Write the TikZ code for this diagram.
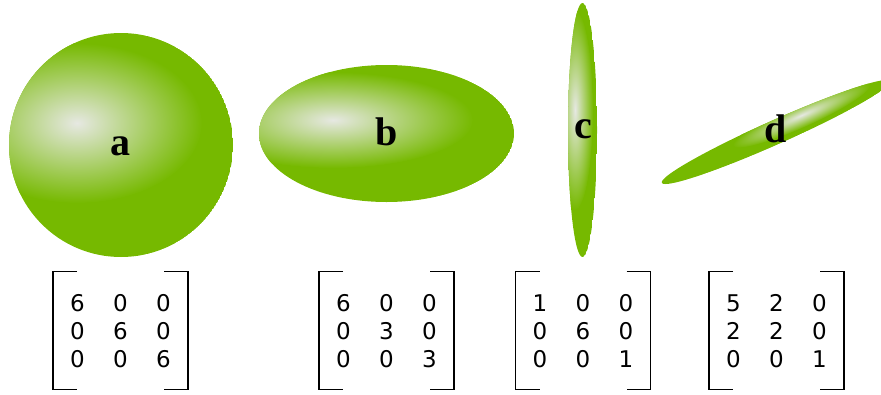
\documentclass[tikz,border=0pt]{standalone}
\usepackage{fontspec}
\usepackage{tikz}
\usetikzlibrary{positioning,matrix}
\newfontfamily\numfont{DejaVu Sans}
\newfontfamily\labfont{Liberation Serif}
\definecolor{BlobGreen}{HTML}{76B900}
\definecolor{BlobShine}{HTML}{E6E8E2}
\tikzset{
  blobfill/.style={fill=BlobGreen},
  blobshine/.style={inner color=BlobShine,outer color=BlobGreen},
  bloblabel/.style={font=\labfont\bfseries\fontsize{40}{40}\selectfont,anchor=base,inner sep=0pt},
  covmat/.style={matrix of nodes,inner sep=0pt,column sep=0pt,row sep=0pt,
    nodes={font=\numfont\fontsize{23}{23}\selectfont,text height=17pt,text depth=0pt,
      minimum width=43pt,minimum height=28pt,inner sep=0pt,anchor=center}},
  bracketline/.style={line width=1.2pt,draw=black}
}
\newcommand{\matbrackets}[1]{%
  \draw[bracketline] ([xshift=-43.5pt,yshift=59pt]#1.center) -- ++(-24,0) -- ++(0,118) -- ++(24,0);
  \draw[bracketline] ([xshift=43.5pt,yshift=59pt]#1.center) -- ++(24,0) -- ++(0,118) -- ++(-24,0);}

\begin{document}
\begin{tikzpicture}[x=1pt,y=-1pt]
\useasboundingbox (0,0) rectangle (881,394);
\begin{scope}
  \clip (121,145) circle (112);
  \fill[blobfill] (121,145) circle (112);
  \shade[blobshine] (77,123) ellipse (125 and 80);
\end{scope}
\begin{scope}
  \clip (386.5,133.5) ellipse (127.5 and 68.5);
  \fill[blobfill] (386.5,133.5) ellipse (127.5 and 68.5);
  \shade[blobshine] (333,120) ellipse (140 and 48);
\end{scope}
\begin{scope}
  \clip (582.5,130) ellipse (14.5 and 127);
  \fill[blobfill] (582.5,130) ellipse (14.5 and 127);
  \shade[blobshine] (575,110) ellipse (18 and 100);
\end{scope}
\begin{scope}[transform canvas={shift={(776,132)},rotate=24}]
  \clip (0,0) ellipse (125 and 12);
  \fill[blobfill] (0,0) ellipse (125 and 12);
  \shade[blobshine] (30,-5) ellipse (75 and 12);
\end{scope}
\node[bloblabel] (la) at (120.5,155) {a};
\node[bloblabel] (lb) at (387,145) {b};
\node[bloblabel] (lc) at (583,138) {c};
\node[bloblabel] (ld) at (776,142) {d};
\matrix[covmat] (ma) at (120.5,330.5) {6 & 0 & 0\\ 0 & 6 & 0\\ 0 & 0 & 6\\};
\matrix[covmat] (mb) at (386.5,330.5) {6 & 0 & 0\\ 0 & 3 & 0\\ 0 & 0 & 3\\};
\matrix[covmat] (mc) at (583,330.5) {1 & 0 & 0\\ 0 & 6 & 0\\ 0 & 0 & 1\\};
\matrix[covmat] (md) at (776.5,330.5) {5 & 2 & 0\\ 2 & 2 & 0\\ 0 & 0 & 1\\};
\matbrackets{ma}
\matbrackets{mb}
\matbrackets{mc}
\matbrackets{md}
\end{tikzpicture}
\end{document}
